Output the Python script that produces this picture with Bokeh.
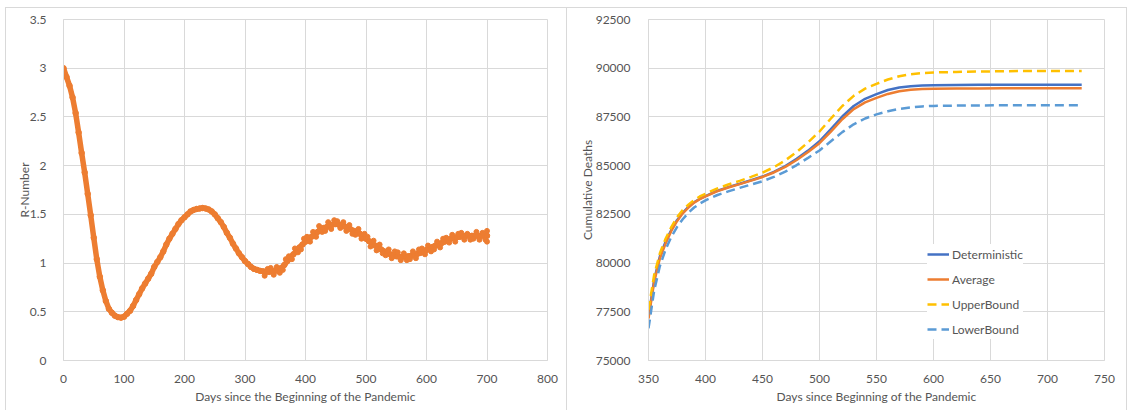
from bokeh.plotting import figure
from bokeh.layouts import row
from bokeh.models import FixedTicker, NumeralTickFormatter, Legend, LegendItem, Range1d
from bokeh.embed import file_html
from bokeh.resources import INLINE

# ---------------- data: left panel (R-number) ----------------
days = list(range(0, 705, 5))
r_number = [
    3.00, 2.91, 2.82, 2.70, 2.54, 2.34, 2.13, 1.93, 1.71, 1.49,
    1.26, 1.04, 0.86, 0.72, 0.61, 0.53, 0.49, 0.46, 0.445, 0.44,
    0.45, 0.48, 0.51, 0.56, 0.62, 0.68, 0.74, 0.79, 0.84, 0.89,
    0.96, 1.01, 1.06, 1.12, 1.19, 1.25, 1.30, 1.35, 1.40, 1.44,
    1.47, 1.50, 1.53, 1.545, 1.555, 1.56, 1.565, 1.56, 1.55, 1.53,
    1.50, 1.46, 1.42, 1.37, 1.31, 1.26, 1.20, 1.15, 1.10, 1.06,
    1.02, 0.99, 0.96, 0.94, 0.93, 0.92, 0.915, 0.91, 0.91, 0.915,
    0.92, 0.93, 0.95, 0.98, 1.02, 1.06, 1.09, 1.12, 1.16, 1.19,
    1.22, 1.25, 1.27, 1.29, 1.32, 1.35, 1.36, 1.37, 1.385, 1.395,
    1.40, 1.395, 1.385, 1.375, 1.36, 1.345, 1.33, 1.315, 1.30, 1.275,
    1.25, 1.225, 1.20, 1.18, 1.16, 1.14, 1.12, 1.105, 1.09, 1.08,
    1.07, 1.065, 1.065, 1.065, 1.07, 1.075, 1.085, 1.095, 1.105, 1.12,
    1.135, 1.15, 1.165, 1.18, 1.19, 1.205, 1.22, 1.235, 1.25, 1.26,
    1.265, 1.27, 1.275, 1.28, 1.28, 1.28, 1.28, 1.28, 1.28, 1.28,
    1.28,
]
# scattered (noisy) simulation points of the later period
noise_days = [
    332.5, 337.5, 342.5, 347.5, 352.5, 357.5, 362.5, 367.5, 372.5, 377.5,
    382.5, 387.5, 392.5, 397.5, 402.5, 407.5, 412.5, 417.5, 422.5, 427.5,
    432.5, 437.5, 442.5, 447.5, 452.5, 457.5, 462.5, 467.5, 472.5, 477.5,
    482.5, 487.5, 492.5, 497.5, 502.5, 507.5, 512.5, 517.5, 522.5, 527.5,
    532.5, 537.5, 542.5, 547.5, 552.5, 557.5, 562.5, 567.5, 572.5, 577.5,
    582.5, 587.5, 592.5, 597.5, 602.5, 607.5, 612.5, 617.5, 622.5, 627.5,
    632.5, 637.5, 642.5, 647.5, 652.5, 657.5, 662.5, 667.5, 672.5, 677.5,
    682.5, 687.5, 692.5, 697.5, 700, 700,
]
noise_r = [
    0.87, 0.94, 0.95, 0.88, 0.96, 0.90, 0.93, 1.04, 1.07, 1.04,
    1.15, 1.11, 1.14, 1.25, 1.27, 1.22, 1.32, 1.27, 1.38, 1.32,
    1.33, 1.42, 1.35, 1.44, 1.43, 1.36, 1.42, 1.33, 1.39, 1.30,
    1.29, 1.35, 1.25, 1.30, 1.27, 1.17, 1.23, 1.13, 1.19, 1.10,
    1.08, 1.14, 1.05, 1.12, 1.11, 1.03, 1.10, 1.03, 1.04, 1.12,
    1.05, 1.14, 1.15, 1.09, 1.18, 1.12, 1.14, 1.22, 1.16, 1.25,
    1.26, 1.21, 1.29, 1.22, 1.30, 1.31, 1.24, 1.30, 1.24, 1.25,
    1.32, 1.24, 1.31, 1.24, 1.22, 1.33,
]
left_x_ticks = [0, 100, 200, 300, 400, 500, 600, 700, 800]
left_y_ticks = [0, 0.5, 1, 1.5, 2, 2.5, 3, 3.5]

# ---------------- data: right panel (cumulative deaths) ----------------
days_cum = [350, 355, 360, 365, 370, 375, 380, 385, 390, 395, 400, 410, 420,
            430, 440, 450, 460, 470, 480, 490, 500, 510, 520, 530, 540, 550,
            560, 570, 580, 590, 600, 620, 640, 660, 680, 700, 730]
deterministic = [77250, 79150, 80350, 81100, 81700, 82200, 82580, 82880, 83120,
                 83300, 83440, 83700, 83900, 84070, 84250, 84440, 84680, 84980,
                 85350, 85770, 86250, 86870, 87520, 88060, 88430, 88670, 88880,
                 89010, 89080, 89110, 89125, 89140, 89145, 89150, 89150, 89150,
                 89150]
average = [77150, 79050, 80250, 81000, 81650, 82150, 82550, 82850, 83100, 83280,
           83420, 83680, 83880, 84050, 84230, 84420, 84650, 84940, 85290, 85700,
           86150, 86750, 87380, 87900, 88250, 88480, 88680, 88820, 88900, 88935,
           88950, 88960, 88965, 88970, 88970, 88970, 88970]
upper_bound = [77600, 79400, 80500, 81250, 81850, 82350, 82720, 83000, 83230,
               83420, 83560, 83820, 84030, 84220, 84420, 84640, 84920, 85270,
               85700, 86200, 86750, 87420, 88060, 88580, 88950, 89200, 89420,
               89590, 89690, 89750, 89780, 89810, 89830, 89845, 89855, 89860,
               89860]
lower_bound = [76650, 78600, 79850, 80700, 81350, 81850, 82250, 82580, 82850,
               83050, 83220, 83480, 83680, 83860, 84030, 84200, 84420, 84690,
               85030, 85400, 85780, 86250, 86720, 87120, 87420, 87630, 87790,
               87910, 87990, 88040, 88065, 88080, 88090, 88095, 88100, 88100,
               88100]
series_names = ["Deterministic", "Average", "UpperBound", "LowerBound"]
right_x_ticks = [350, 400, 450, 500, 550, 600, 650, 700, 750]
right_y_ticks = [75000, 77500, 80000, 82500, 85000, 87500, 90000, 92500]

# ---------------- style ----------------
FONT = "Lato"
TXT = "#555555"
GRID = "#d9d9d9"
ORANGE = "#ED7D31"
BLUE = "#4472C4"
GOLD = "#FFC000"
LBLUE = "#5B9BD5"


def style(p, xlabel, ylabel, xticks, yticks, yfmt, y_standoff, y_title_standoff):
    p.background_fill_color = "white"
    p.border_fill_color = "white"
    p.outline_line_color = GRID
    p.xaxis.ticker = FixedTicker(ticks=xticks)
    p.yaxis.ticker = FixedTicker(ticks=yticks)
    p.xaxis.formatter = NumeralTickFormatter(format="0")
    p.yaxis.formatter = NumeralTickFormatter(format=yfmt)
    p.xaxis.axis_label = xlabel
    p.yaxis.axis_label = ylabel
    for ax in (p.xaxis[0], p.yaxis[0]):
        ax.major_label_text_font = FONT
        ax.major_label_text_font_size = "12px"
        ax.major_label_text_color = TXT
        ax.axis_label_text_font = FONT
        ax.axis_label_text_font_size = "12px"
        ax.axis_label_text_color = TXT
        ax.axis_label_text_font_style = "normal"
        ax.major_tick_line_color = None
        ax.minor_tick_line_color = None
        ax.axis_line_color = GRID
    p.xaxis.axis_label_standoff = 3
    p.yaxis.axis_label_standoff = y_title_standoff
    p.xaxis.major_label_standoff = 8
    p.yaxis.major_label_standoff = y_standoff
    p.xgrid.grid_line_color = GRID
    p.ygrid.grid_line_color = GRID
    # thin light-grey chart-area border (drawn just outside the element)
    p.styles = {"outline": "1px solid #d9d9d9", "outline-offset": "0px"}


# ---------------- left figure ----------------
p1 = figure(width=560, height=402, output_backend="svg", toolbar_location=None,
            x_range=Range1d(0, 800), y_range=Range1d(0, 3.5),
            min_border_left=57, min_border_right=19, min_border_top=11,
            min_border_bottom=50, margin=(8, 0, 0, 6))
style(p1, "Days since the Beginning of the Pandemic", "R-Number",
      left_x_ticks, left_y_ticks, "0.[0]", 11, -5)
p1.line(days, r_number, line_width=5.5, color=ORANGE, line_join="round",
        line_cap="round")
p1.scatter(days, r_number, size=5.5, color=ORANGE)
p1.scatter(noise_days, noise_r, size=5, color=ORANGE)

# ---------------- right figure ----------------
p2 = figure(width=559, height=402, output_backend="svg", toolbar_location=None,
            x_range=Range1d(350, 750), y_range=Range1d(75000, 92500),
            min_border_left=81, min_border_right=22, min_border_top=11,
            min_border_bottom=50, margin=(8, 0, 0, 1))
style(p2, "Days since Beginning of the Pandemic", "Cumulative Deaths",
      right_x_ticks, right_y_ticks, "0", 12, -2)

r_det = p2.line(days_cum, deterministic, line_width=2.5, color=BLUE)
r_avg = p2.line(days_cum, average, line_width=2.5, color=ORANGE)
r_up = p2.line(days_cum, upper_bound, line_width=2.5, color=GOLD, line_dash="9 5")
r_lo = p2.line(days_cum, lower_bound, line_width=2.5, color=LBLUE, line_dash="9 5")

legend = Legend(
    items=[LegendItem(label=n, renderers=[r]) for n, r in
           zip(series_names, [r_det, r_avg, r_up, r_lo])],
    location=(279, 21), padding=5, margin=0, spacing=5,
    glyph_width=22, glyph_height=20, label_standoff=3,
    label_text_font=FONT, label_text_font_size="12px", label_text_color=TXT,
    border_line_color=None, background_fill_color="white",
    background_fill_alpha=1.0,
)
p2.add_layout(legend)

layout = row(p1, p2)
open("out.html", "w").write(file_html(layout, INLINE))
